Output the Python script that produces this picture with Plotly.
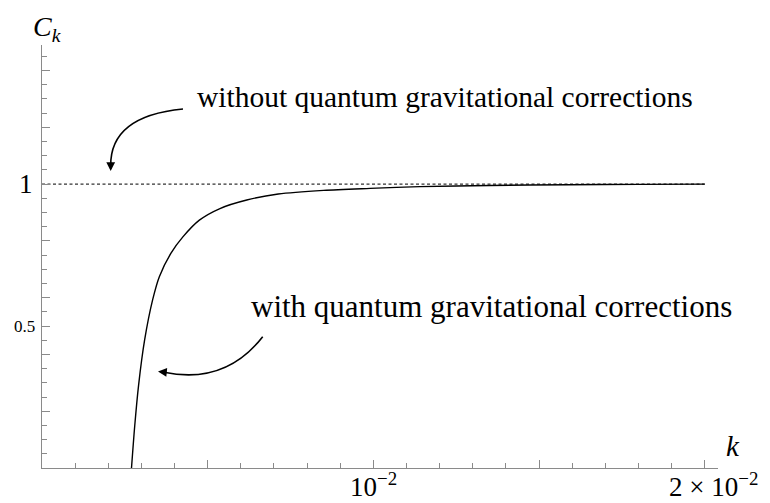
import plotly.graph_objects as go

# Data
k_vals = [0.002701, 0.002798, 0.002915, 0.003097, 0.003338, 0.003541, 0.003888, 0.004251,
          0.004749, 0.00537, 0.00618, 0.00713, 0.00850, 0.00990, 0.01140, 0.01350,
          0.01590, 0.01800, 0.02000]
C_vals = [0.0, 0.148, 0.292, 0.451, 0.592, 0.674, 0.756, 0.814,
          0.873, 0.914, 0.944, 0.965, 0.978, 0.985, 0.991, 0.995,
          0.998, 0.999, 1.0]
classical_k = [0.0, 0.02]
classical_C = [1.0, 1.0]

x_major = [0.005, 0.01, 0.015, 0.02]
y_major = [0.2, 0.4, 0.5, 0.6, 0.8, 1.0, 1.2, 1.4]

# the page body has an 8px margin, so the figure sits at (8, 8)
OFF = 8
WIN_W, WIN_H = 770, 503
W, H = WIN_W - OFF, WIN_H - OFF
# plot area in window pixels
X0, X1, Y0, Y1 = 42, 718, 45, 468
L, R, T, B = X0 - OFF, WIN_W - X1, Y0 - OFF, WIN_H - Y1
pw, ph = X1 - X0, Y1 - Y0

def px(x):
    return (x - X0) / pw

def py(y):
    return (Y1 - y) / ph

SERIF = "Liberation Serif"
axis_col = "#8a8a8a"

fig = go.Figure()
fig.add_trace(go.Scatter(x=classical_k, y=classical_C, mode="lines",
                         line=dict(color="#333333", width=1.2, dash="3px,2.5px"),
                         hoverinfo="skip", showlegend=False))
fig.add_trace(go.Scatter(x=k_vals, y=C_vals, mode="lines",
                         line=dict(color="black", width=1.4, shape="spline", smoothing=0.8),
                         hoverinfo="skip", showlegend=False))

fig.update_layout(
    width=W, height=H,
    margin=dict(l=L, r=R, t=T, b=B, autoexpand=False),
    plot_bgcolor="white", paper_bgcolor="white",
    showlegend=False,
    xaxis=dict(range=[0, 0.0204], showgrid=False, zeroline=False,
               showline=True, linecolor=axis_col, linewidth=1,
               ticks="inside", ticklen=8, tickcolor=axis_col, tickwidth=1,
               tickmode="array", tickvals=x_major, showticklabels=False,
               minor=dict(ticks="inside", ticklen=5, tickcolor=axis_col, dtick=0.001, tick0=0, showgrid=False)),
    yaxis=dict(range=[0, 1.49], showgrid=False, zeroline=False,
               showline=True, linecolor=axis_col, linewidth=1,
               ticks="inside", ticklen=8, tickcolor=axis_col, tickwidth=1,
               tickmode="array", tickvals=y_major, showticklabels=False,
               minor=dict(ticks="inside", ticklen=5, tickcolor=axis_col, dtick=0.05, tick0=0, showgrid=False)),
)

def txt(x, y, s, size, xanchor="center", yanchor="middle"):
    fig.add_annotation(x=px(x), y=py(y), xref="paper", yref="paper", text=s,
                       showarrow=False, xanchor=xanchor, yanchor=yanchor,
                       font=dict(family=SERIF, size=size, color="black"))

txt(31, 28, "<i>C</i><sub><i>k</i></sub>", 28, xanchor="left")
txt(35, 184, "1", 27, xanchor="right")
txt(37, 326, "0.5", 17, xanchor="right")
txt(733, 446, "<i>k</i>", 29)
txt(373, 485, "10<sup>−2</sup>", 27)
txt(713, 485, "2 × 10<sup>−2</sup>", 27)
txt(445, 97, "without quantum gravitational corrections", 29.5)
txt(491, 306, "with quantum gravitational corrections", 31)

# curved arrow bodies
p0, c0, e0 = (183, 109), (110, 116), (110.7, 166)
fig.add_shape(type="path", xref="paper", yref="paper",
              path=f"M {px(p0[0])},{py(p0[1])} Q {px(c0[0])},{py(c0[1])} {px(e0[0])},{py(e0[1])}",
              line=dict(color="black", width=1.6))
p1, c1, e1 = (262.7, 336.7), (225, 385), (164, 372.2)
fig.add_shape(type="path", xref="paper", yref="paper",
              path=f"M {px(p1[0])},{py(p1[1])} Q {px(c1[0])},{py(c1[1])} {px(e1[0])},{py(e1[1])}",
              line=dict(color="black", width=1.6))

# arrow heads
fig.add_annotation(x=px(110.7), y=py(171), xref="paper", yref="paper", text="",
                   showarrow=True, arrowhead=2, arrowsize=1.1, arrowwidth=1.6,
                   arrowcolor="black", ax=0, ay=-10)
fig.add_annotation(x=px(158), y=py(371.5), xref="paper", yref="paper", text="",
                   showarrow=True, arrowhead=2, arrowsize=1.1, arrowwidth=1.6,
                   arrowcolor="black", ax=10, ay=1)

fig.write_html("out.html")
